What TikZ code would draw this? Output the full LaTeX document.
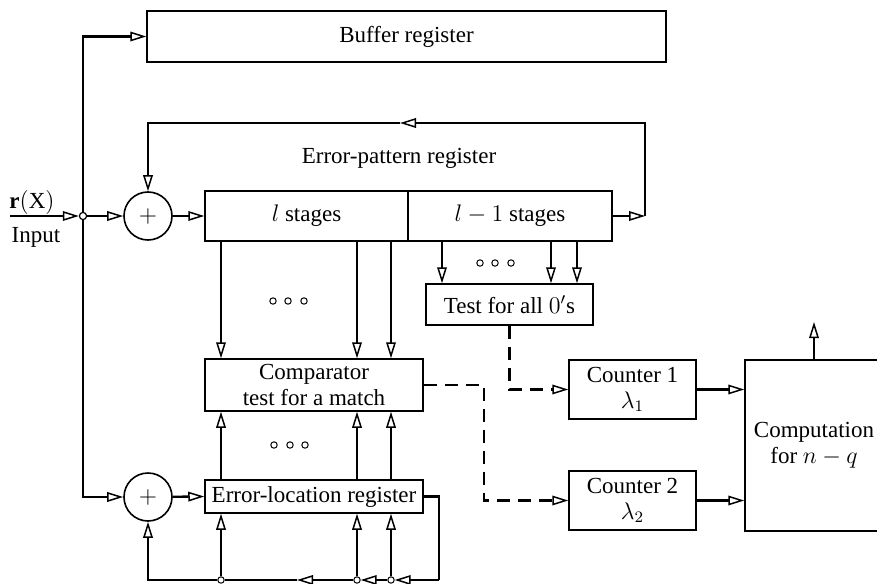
\documentclass[tikz,border=0pt]{standalone}
\usepackage{fontspec}
\setmainfont{Liberation Serif}
\usetikzlibrary{arrows.meta,calc}
\tikzset{
  >={Triangle[open,length=8pt,width=4.8pt,line width=0.75pt]},
  box/.style={draw,line width=0.75pt,inner sep=0pt,align=center},
  bw/.style={minimum width=#1*0.5pt},
  bh/.style={minimum height=#1*0.5pt},
  conn/.style={line width=1.2pt},
  arr/.style={conn,->},
  dashconn/.style={line width=1.3pt,dash pattern=on 6.5pt off 4pt,->},
  adder/.style={draw,circle,line width=0.8pt,minimum size=24pt,inner sep=0pt},
  dotc/.style={draw,circle,line width=0.5pt,minimum size=3.2pt,inner sep=0pt},
  jn/.style={draw,circle,line width=0.6pt,minimum size=3.6pt,inner sep=0pt,fill=white},
  tapdot/.style={draw,circle,line width=0.5pt,minimum size=3.2pt,inner sep=0pt,fill=white},
}
\begin{document}
\begin{tikzpicture}[x=0.5pt,y=-0.5pt,font=\fontsize{11.5pt}{13pt}\selectfont]
\clip (0,0) rectangle (877,583);
\useasboundingbox (0,0) rectangle (877,583);

% registers and blocks (centre, width, height in drawing units)
\node[box,bw=519,bh=51] (buf) at (406.5,36.5) {Buffer register};
\node (eplabel) at (399,158) {Error-pattern register};
\node[box,bw=203,bh=50] (ls) at (306.5,216) {$l$ stages};
\node[box,bw=204,bh=50] (ls1) at (510,216) {$l-1$ stages};
\node[box,bw=218,bh=52] (cmp) at (314,385) {Comparator\\test for a match};
\node[box,bw=167,bh=41] (tst) at (509.5,304.5) {Test for all $0'$s};
\node[box,bw=127,bh=59] (cnt1) at (632.5,389.5) {Counter 1\\$\lambda_1$};
\node[box,bw=127,bh=59] (cnt2) at (632.5,500.5) {Counter 2\\$\lambda_2$};
\node[box,bw=138,bh=171] (comp) at (814,445.5) {Computation\\for $n-q$};
\node[box,bw=218,bh=33] (elr) at (314,496.5) {Error-location register};

% adders
\node[adder] (a1) at (148,216) {$+$};
\node[adder] (a2) at (148,497) {$+$};

% input
\node (rx) at (32,202) {$\mathbf{r}(\mathrm{X})$};
\node (inlab) at (36,237) {Input};
\coordinate (inS) at (10,216);
\node[jn] (j) at (83,216) {};

% tap abscissae
\coordinate (x1) at (221,0);
\coordinate (x2) at (357,0);
\coordinate (x3) at (391,0);
\coordinate (y1) at (442,0);
\coordinate (y2) at (551,0);
\coordinate (y3) at (577,0);
\coordinate (dx) at (484,0);

% feedback corners and mid-line arrow points
\coordinate (lpR) at (645,216);
\coordinate (m2) at (400,123);
\coordinate (fbR) at (439,580);
\coordinate (m1) at (297,580);
\node[tapdot] (t1) at (221,580) {};
\node[tapdot] (t2) at (357,580) {};
\node[tapdot] (t3) at (391,580) {};
\coordinate (out) at (814,322);

% dots
\node[dotc] (d1) at (273,301) {};
\node[dotc] (d2) at (288,301) {};
\node[dotc] (d3) at (304,301) {};
\node[dotc] (d4) at (480,263) {};
\node[dotc] (d5) at (495,263) {};
\node[dotc] (d6) at (511,263) {};
\node[dotc] (d7) at (274,445) {};
\node[dotc] (d8) at (290,445) {};
\node[dotc] (d9) at (305,445) {};

% input distribution
\draw[arr] (inS) -- (j);
\draw[arr] (j) -- (a1);
\draw[arr] (j) |- (buf.west);
\draw[arr] (j) |- (a2.west);
\draw[arr] (a1) -- (ls.west);
\draw[arr] (a2) -- (elr.west);

% error-pattern feedback loop
\draw[arr] (ls1.east) -- (lpR);
\draw[arr] (lpR) |- (m2);
\draw[arr] (m2) -| (a1.north);

% taps to comparator and zero test
\foreach \t in {x1,x2,x3}{
  \draw[arr] (ls.south -| \t) -- (cmp.north -| \t);
  \draw[arr] (elr.north -| \t) -- (cmp.south -| \t);
}
\foreach \t in {y1,y2,y3}{
  \draw[arr] (ls1.south -| \t) -- (tst.north -| \t);
}

% error-location feedback loop
\draw[conn] (elr.east) -| (fbR);
\draw[arr] (fbR) -- (t3);
\draw[arr] (t3) -- (t2);
\draw[arr] (t2) -- (m1);
\draw[conn] (m1) -- (t1);
\draw[arr] (t1) -| (a2.south);
\draw[arr] (t1) -- (elr.south -| t1);
\draw[arr] (t2) -- (elr.south -| t2);
\draw[arr] (t3) -- (elr.south -| t3);

% control (dashed) lines
\draw[dashconn] (tst.south) |- (cnt1.west);
\draw[dashconn] (cmp.east) -- (cmp.east -| dx) -- (cnt2.west -| dx) -- (cnt2.west);

% counters to computation
\draw[arr] (cnt1.east) -- (comp.west |- cnt1.east);
\draw[arr] (cnt2.east) -- (comp.west |- cnt2.east);
\draw[arr] (comp.north) -- (out);
\end{tikzpicture}
\end{document}
